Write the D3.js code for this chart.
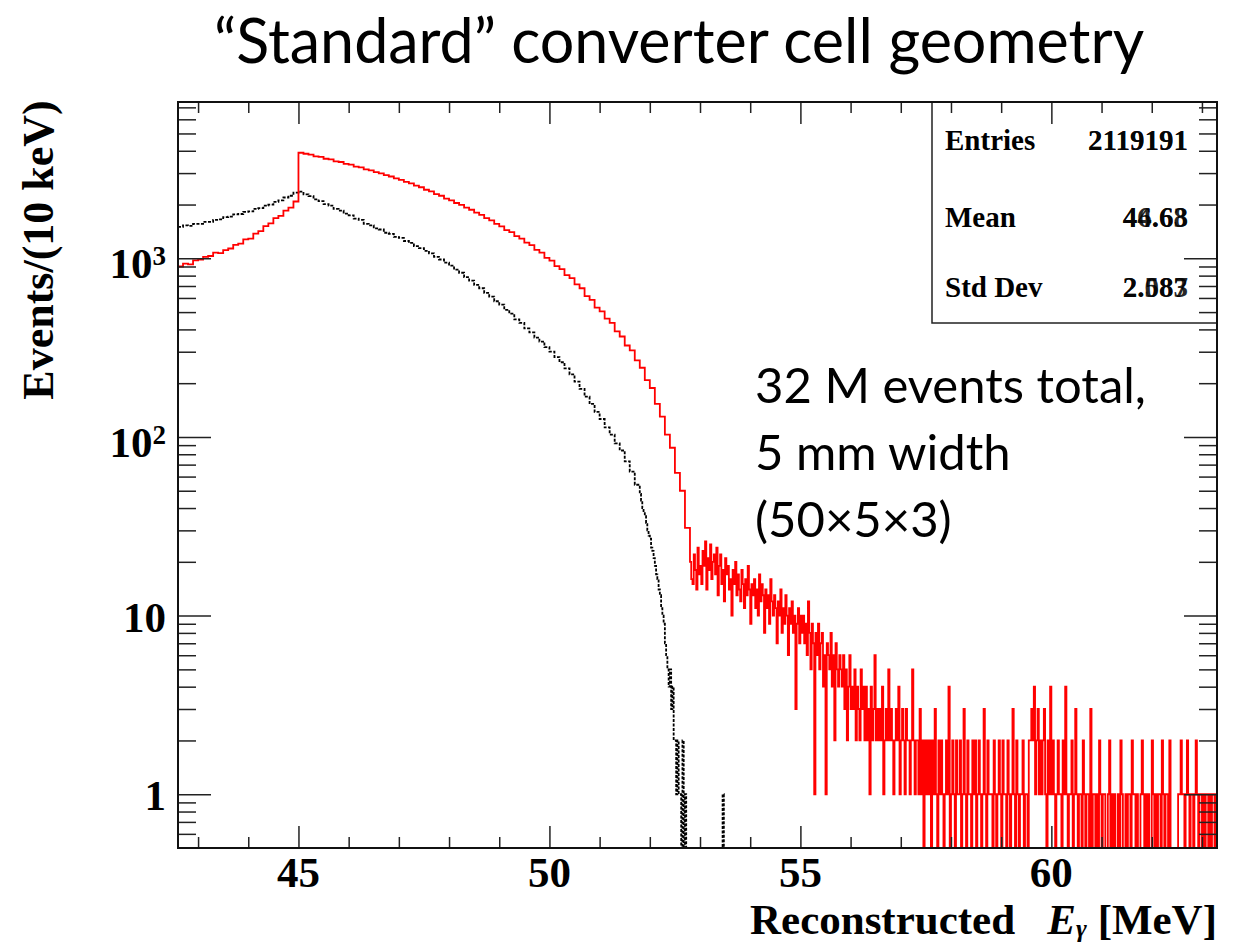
<!DOCTYPE html>
<html>
<head>
<meta charset="utf-8">
<script src="https://cdn.jsdelivr.net/npm/d3@7"></script>
<style>
body { margin: 0; background: #fff; }
</style>
</head>
<body>
<script>
// histogram binning (values are counts per 10 keV)
var smoothStep = 0.1, tailStep = 0.025;

var redStart = 42.6, redTailStart = 52.8;
var redSmooth = [
  900, 935, 925, 975, 985, 1020, 1030, 1075, 1070, 1110,
  1135, 1190, 1210, 1275, 1290, 1375, 1420, 1515, 1570, 1680,
  1730, 1850, 1920, 2080,
  3900, 3850, 3810, 3720, 3700, 3610, 3580, 3490, 3460, 3380,
  3350, 3260, 3230, 3150, 3110, 3040, 2990, 2920, 2870, 2800,
  2750, 2680, 2630, 2550, 2500, 2420, 2370, 2290, 2240, 2160,
  2110, 2040, 1990, 1920, 1870, 1800, 1750, 1680, 1630, 1560,
  1510, 1440, 1400, 1330, 1290, 1225, 1185, 1115, 1075, 1005,
  970, 905, 870, 805, 775, 715, 680, 615, 585, 530,
  505, 460, 435, 390, 365, 325, 305, 268, 244, 208,
  188, 153, 130, 103, 87, 63, 50, 31
];
var redTail = [
  20, 16, 15, 22, 18, 14, 24, 17, 19, 15,
  23, 19, 26, 14, 21, 18, 25, 16, 20, 22,
  17, 24, 13, 19, 22, 15, 18, 12, 21, 17,
  19, 14, 16, 10, 18, 15, 20, 13, 17, 14,
  12, 18, 15, 11, 16, 13, 19, 14, 9, 15,
  13, 16, 11, 14, 10, 17, 12, 15, 13, 8,
  14, 11, 13, 9, 16, 12, 10, 13, 11, 7,
  12, 10, 14, 8, 11, 9, 13, 10, 6, 11,
  9, 12, 8, 10, 3, 9, 11, 7, 10, 8,
  10, 7, 9, 6, 12, 8, 5, 9, 7, 1,
  8, 6, 9, 5, 7, 8, 4, 6, 1, 7,
  6, 5, 8, 4, 6, 2, 7, 5, 4, 6,
  5, 4, 6, 3, 5, 2, 4, 6, 3, 4,
  3, 5, 2, 4, 3, 2, 5, 3, 4, 2,
  4, 2, 3, 1, 4, 2, 3, 6, 2, 3,
  2, 3, 2, 4, 1, 2, 3, 2, 5, 2,
  3, 2, 1, 2, 3, 2, 4, 1, 2, 3,
  2, 1, 3, 2, 2, 1, 2, 5, 2, 1,
  2, 2, 1, 3, 1, 2, 0, 2, 1, 2,
  1, 2, 0, 2, 1, 3, 1, 0, 2, 1,
  2, 1, 0, 1, 2, 1, 4, 0, 1, 2,
  1, 0, 2, 1, 1, 2, 0, 1, 3, 1,
  0, 2, 1, 1, 0, 2, 1, 2, 0, 1,
  2, 1, 0, 1, 3, 1, 0, 2, 1, 1,
  1, 0, 2, 1, 0, 1, 2, 1, 0, 2,
  1, 1, 0, 2, 1, 0, 1, 3, 1, 0,
  2, 1, 0, 1, 1, 2, 0, 1, 1, 0,
  2, 2, 3, 2, 4, 1, 2, 3, 1, 2,
  1, 2, 3, 1, 0, 2, 1, 4, 1, 2,
  1, 0, 1, 2, 1, 1, 0, 2, 1, 4,
  1, 0, 1, 1, 2, 0, 1, 3, 1, 0,
  1, 1, 0, 2, 1, 0, 1, 1, 0, 3,
  0, 1, 1, 0, 1, 0, 2, 1, 0, 1,
  1, 0, 0, 1, 2, 0, 1, 0, 1, 0,
  0, 1, 0, 2, 1, 0, 0, 1, 0, 1,
  1, 0, 2, 1, 1, 0, 1, 0, 0, 1,
  2, 1, 0, 1, 0, 1, 0, 0, 2, 1,
  0, 1, 0, 1, 1, 0, 2, 1, 0, 1,
  1, 0, 2, 0, 0, 0, 0, 0, 0, 1,
  1, 2, 1, 1, 0, 1, 2, 1, 0, 1,
  1, 0, 1, 2, 1, 0, 1, 1, 0, 1,
  0, 1, 1, 0, 1, 0, 1, 1, 0, 1
];

var blackStart = 42.6, blackTailStart = 51.8;
var blackSmooth = [
  1500, 1530, 1520, 1560, 1560, 1600, 1600, 1640, 1650, 1700,
  1710, 1760, 1770, 1820, 1830, 1890, 1910, 1970, 2000, 2070,
  2110, 2190, 2240, 2330,
  2360, 2280, 2230, 2140, 2090, 2010, 1970, 1890, 1850, 1780,
  1740, 1670, 1640, 1560, 1530, 1470, 1450, 1390, 1370, 1320,
  1300, 1250, 1220, 1170, 1140, 1100, 1065, 1020, 985, 945,
  910, 865, 830, 785, 750, 710, 680, 640, 610, 575,
  550, 515, 490, 455, 435, 405, 385, 360, 342, 318,
  300, 280, 262, 242, 224, 204, 186, 168, 153, 138,
  126, 113, 103, 92, 84, 73, 64, 54
];
var blackTail = [
  48, 44, 40, 38, 36, 33, 30, 28, 27, 24, 23, 21, 19, 17, 16, 14,
  13, 11, 10, 9, 7, 6, 5, 4, 5, 3, 4, 2, 2, 1, 2, 1,
  1, 0, 2, 0, 1, 0, 0, 0,
  0, 0, 0, 0, 0, 0, 0, 0, 0, 0, 0, 0, 0, 0, 0, 0, 0, 0, 0, 0, 0, 0, 0, 0, 0, 0,
  1, 0
];

var xTicks = [45, 50, 55, 60];
var yTicks = [1, 10, 100, 1000];
var yTickBase = ["1", "10", "10", "10"];
var yTickPow = ["", "", "2", "3"];

var statNames = ["Entries", "Mean", "Std Dev"];
var statValuesA = ["2119191", "46.68", "2.083"];
var statValuesB = ["2119191", "44.63", "2.587"];

var titleText = "\u201CStandard\u201D converter cell geometry";
var noteLines = ["32 M events total,", "5 mm width", "(50\u00D75\u00D73)"];

// set the dimensions and margins of the graph
var margin = {top: 102, right: 23, bottom: 96, left: 178},
    width = 1240 - margin.left - margin.right,
    height = 944 - margin.top - margin.bottom;

var serif = "'Liberation Serif', 'Times New Roman', serif";
var sans = "Lato, 'Open Sans', sans-serif";

var x = d3.scaleLinear()
          .domain([42.6, 63.3])
          .range([0, width]);
var y = d3.scaleLog()
          .domain([0.5, 7500])
          .range([height, 0]);

var svg = d3.select("body").append("svg")
    .attr("width", 1240)
    .attr("height", 944)
    .style("background", "#fff");

var g = svg.append("g")
    .attr("transform", "translate(" + margin.left + "," + margin.top + ")");

g.append("clipPath").attr("id", "plotclip")
  .append("rect").attr("width", width).attr("height", height);

function toBins(start, step, vals) {
  return vals.map(function(v, i) { return {e: start + i * step, v: v}; });
}
function series(start, smooth, tailStart, tail) {
  var pts = toBins(start, smoothStep, smooth).concat(toBins(tailStart, tailStep, tail));
  pts.push({e: tailStart + tail.length * tailStep, v: tail[tail.length - 1]});
  return pts;
}
var redData = series(redStart, redSmooth, redTailStart, redTail);
var blackData = series(blackStart, blackSmooth, blackTailStart, blackTail);

var histLine = d3.line()
    .x(function(d) { return x(d.e); })
    .y(function(d) { return d.v > 0 ? y(d.v) : height + 5; })
    .curve(d3.curveStepAfter);

// stats box (drawn first so the frame ticks show on top)
var box = {x0: 932 - margin.left, y1: 323 - margin.top};
g.append("rect")
  .attr("x", box.x0).attr("y", 0)
  .attr("width", width - box.x0).attr("height", box.y1)
  .attr("fill", "#fff").attr("stroke", "#222").attr("stroke-width", 1.5);

var plot = g.append("g").attr("clip-path", "url(#plotclip)");
plot.append("path")
  .datum(blackData)
  .attr("d", histLine)
  .attr("fill", "none")
  .attr("stroke", "#000")
  .attr("stroke-width", 1.8)
  .attr("stroke-dasharray", "3,1.5");
plot.append("path")
  .datum(redData)
  .attr("d", histLine)
  .attr("fill", "none")
  .attr("stroke", "#ff0000")
  .attr("stroke-width", 1.8);

// axes: ticks on all four sides, pointing inward
var xMinor = d3.range(43, 64, 1).filter(function(d) { return xTicks.indexOf(d) < 0; });
var yMinor = [];
[0.1, 1, 10, 100, 1000].forEach(function(dec) {
  d3.range(2, 10).forEach(function(k) {
    var v = dec * k;
    if (v > 0.5 && v < 7500) yMinor.push(v);
  });
});

function styleAxis(sel) {
  sel.select(".domain").remove();
  sel.selectAll("line").attr("stroke", "#222").attr("stroke-width", 1.5);
  sel.selectAll("text").remove();
}
g.append("g").attr("transform", "translate(0," + height + ")")
  .call(d3.axisTop(x).tickValues(xTicks).tickSize(22)).call(styleAxis);
g.append("g").attr("transform", "translate(0," + height + ")")
  .call(d3.axisTop(x).tickValues(xMinor).tickSize(11)).call(styleAxis);
g.append("g")
  .call(d3.axisBottom(x).tickValues(xTicks).tickSize(22)).call(styleAxis);
g.append("g")
  .call(d3.axisBottom(x).tickValues(xMinor).tickSize(11)).call(styleAxis);
g.append("g")
  .call(d3.axisRight(y).tickValues(yTicks).tickSize(33)).call(styleAxis);
g.append("g")
  .call(d3.axisRight(y).tickValues(yMinor).tickSize(18)).call(styleAxis);
g.append("g").attr("transform", "translate(" + width + ",0)")
  .call(d3.axisLeft(y).tickValues(yTicks).tickSize(33)).call(styleAxis);
g.append("g").attr("transform", "translate(" + width + ",0)")
  .call(d3.axisLeft(y).tickValues(yMinor).tickSize(18)).call(styleAxis);

g.append("rect")
  .attr("width", width).attr("height", height)
  .attr("fill", "none").attr("stroke", "#111").attr("stroke-width", 2);

// tick labels
g.selectAll(".xlab")
  .data(xTicks)
  .enter().append("text")
  .attr("class", "xlab")
  .attr("x", function(d) { return x(d); })
  .attr("y", height + 39)
  .attr("text-anchor", "middle")
  .style("font-family", serif).style("font-weight", "bold").style("font-size", "43px")
  .text(function(d) { return d; });

var ylab = g.selectAll(".ylab")
  .data(yTicks)
  .enter().append("text")
  .attr("class", "ylab")
  .attr("x", -12)
  .attr("y", function(d, i) { return y(d) + (yTickPow[i] ? 20 : 16); })
  .attr("text-anchor", "end")
  .style("font-family", serif).style("font-weight", "bold").style("font-size", "43px");
ylab.append("tspan").text(function(d, i) { return yTickBase[i]; });
ylab.append("tspan")
  .attr("dy", -13)
  .style("font-size", "27px")
  .text(function(d, i) { return yTickPow[i]; });

// axis titles
svg.append("text")
  .attr("transform", "translate(53,250) rotate(-90)")
  .attr("text-anchor", "middle")
  .style("font-family", serif).style("font-weight", "bold").style("font-size", "44px")
  .text("Events/(10 keV)");

var xt = svg.append("text")
  .attr("x", 1217).attr("y", 934)
  .attr("text-anchor", "end")
  .style("font-family", serif).style("font-weight", "bold").style("font-size", "43px");
xt.append("tspan").text("Reconstructed\u00A0\u00A0\u00A0");
xt.append("tspan").style("font-style", "italic").text("E");
xt.append("tspan").style("font-style", "italic").style("font-size", "26px").attr("dy", 3).text("\u03B3");
xt.append("tspan").attr("dy", -3).text(" [MeV]");

// stats text
var statY = [150, 227, 297];
svg.selectAll(".sname")
  .data(statNames)
  .enter().append("text")
  .attr("x", 945).attr("y", function(d, i) { return statY[i]; })
  .style("font-family", serif).style("font-weight", "bold").style("font-size", "29px")
  .text(function(d) { return d; });
[statValuesB, statValuesA].forEach(function(vals) {
  svg.selectAll(null)
    .data(vals)
    .enter().append("text")
    .attr("x", 1188).attr("y", function(d, i) { return statY[i]; })
    .attr("text-anchor", "end")
    .attr("fill-opacity", 0.85)
    .style("font-family", serif).style("font-weight", "bold").style("font-size", "29px")
    .text(function(d) { return d; });
});

// title and annotation
svg.append("text")
  .attr("x", 679).attr("y", 63)
  .attr("text-anchor", "middle")
  .style("font-family", sans).style("font-size", "61px")
  .text(titleText);

svg.selectAll(".note")
  .data(noteLines)
  .enter().append("text")
  .attr("class", "note")
  .attr("x", 755)
  .attr("y", function(d, i) { return 403 + i * 67; })
  .style("font-family", sans).style("font-size", "49px")
  .text(function(d) { return d; });
</script>
</body>
</html>
